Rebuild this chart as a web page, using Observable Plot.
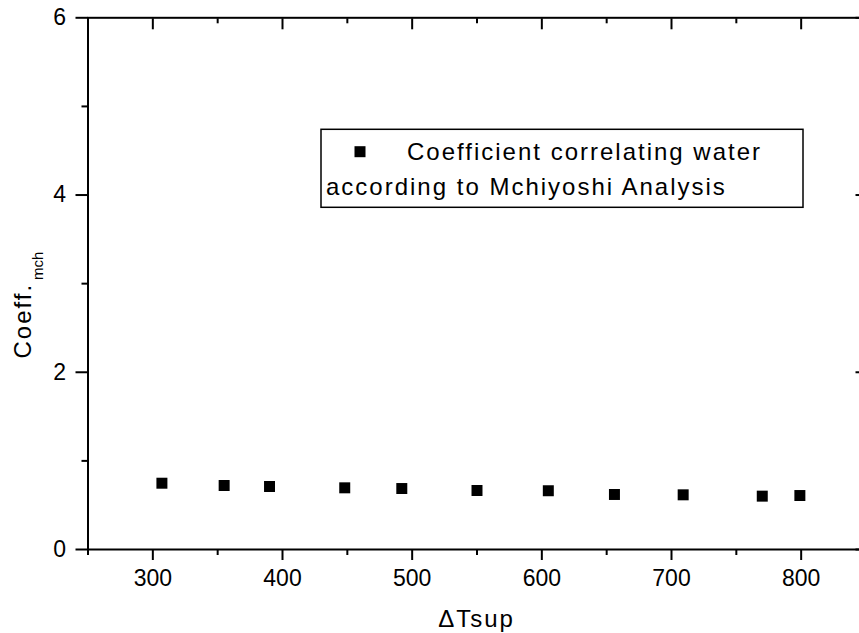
<!DOCTYPE html>
<html>
<head>
<meta charset="utf-8">
<script src="https://cdn.jsdelivr.net/npm/d3@7"></script>
<script src="https://cdn.jsdelivr.net/npm/@observablehq/plot@0.6"></script>
<style>
  html, body { margin: 0; padding: 0; background: white; overflow: hidden; }
</style>
</head>
<body>
<div id="chart"></div>
<script>
// Data
const deltaTsup = [307, 355, 390, 448, 492, 550, 605, 656, 709, 770, 799];
const coeffMch = [0.748, 0.722, 0.711, 0.696, 0.688, 0.666, 0.663, 0.621, 0.617, 0.602, 0.609];
const xTicks = [300, 400, 500, 600, 700, 800];
const xMinorTicks = [250, 350, 450, 550, 650, 750, 850];
const yTicks = [0, 2, 4, 6];
const yMinorTicks = [1, 3, 5];
const xLabel = "ΔTsup";
const yLabel = "Coeff.";
const yLabelSub = "mch";
const legendLine1 = "Coefficient correlating water";
const legendLine2 = "according to Mchiyoshi Analysis";

const data = deltaTsup.map((x, i) => ({x, y: coeffMch[i]}));

const font = "'Liberation Sans', Arial, Helvetica, sans-serif";

const plot = Plot.plot({
  width: 859,
  height: 633,
  marginLeft: 87.5,
  marginRight: -6.5,
  marginTop: 17.3,
  marginBottom: 84,
  x: {domain: [250, 850]},
  y: {domain: [0, 6]},
  style: {fontFamily: font, fontSize: "23px", color: "black", background: "white"},
  marks: [
    Plot.frame({stroke: "black", strokeWidth: 2}),
    Plot.axisX({ticks: xTicks, tickSize: 11, tickPadding: 9, tickFormat: d => String(d), label: null, stroke: "black", strokeWidth: 2, fontSize: 23}),
    Plot.axisX({ticks: xMinorTicks, tickSize: 6, text: null, label: null, stroke: "black", strokeWidth: 2}),
    Plot.axisX({anchor: "top", ticks: xTicks, tickSize: -11, text: null, label: null, stroke: "black", strokeWidth: 2}),
    Plot.axisX({anchor: "top", ticks: xMinorTicks, tickSize: -5, text: null, label: null, stroke: "black", strokeWidth: 2}),
    Plot.axisY({ticks: yTicks, tickSize: 12, tickPadding: 10, tickFormat: d => String(d), label: null, stroke: "black", strokeWidth: 2, fontSize: 23}),
    Plot.axisY({ticks: yMinorTicks, tickSize: 6, text: null, label: null, stroke: "black", strokeWidth: 2}),
    Plot.axisY({anchor: "right", ticks: yTicks, tickSize: -11, text: null, label: null, stroke: "black", strokeWidth: 2}),
    Plot.axisY({anchor: "right", ticks: yMinorTicks, tickSize: -5, text: null, label: null, stroke: "black", strokeWidth: 2}),
    Plot.dot(data, {x: "x", y: "y", symbol: "square", r: 6.2, fill: "black", stroke: "none"})
  ]
});

const svg = d3.select(plot);

// X axis label
svg.append("text")
  .attr("x", 476.5).attr("y", 627)
  .attr("text-anchor", "middle")
  .style("font-family", font).style("font-size", "24px").style("letter-spacing", "2px")
  .attr("fill", "black")
  .text(xLabel);

// Y axis label with subscript
const yl = svg.append("text")
  .attr("transform", "translate(30.7,305) rotate(-90)")
  .attr("text-anchor", "middle")
  .style("font-family", font).style("font-size", "24px").style("letter-spacing", "2px")
  .attr("fill", "black");
yl.append("tspan").text(yLabel);
yl.append("tspan").attr("dx", 3).attr("dy", 12).style("font-size", "15px").style("letter-spacing", "0px").text(yLabelSub);

// Legend box
const lg = svg.append("g").attr("text-anchor", "start");
lg.append("rect")
  .attr("x", 321).attr("y", 129.3).attr("width", 482).attr("height", 78)
  .attr("fill", "white").attr("stroke", "black").attr("stroke-width", 1.5);
lg.append("rect")
  .attr("x", 354.5).attr("y", 146.2).attr("width", 11).attr("height", 11)
  .attr("fill", "black");
lg.append("text")
  .attr("x", 407).attr("y", 160)
  .attr("text-anchor", "start")
  .style("font-family", font).style("font-size", "24px").style("letter-spacing", "2px")
  .attr("fill", "black").text(legendLine1);
lg.append("text")
  .attr("x", 326).attr("y", 195)
  .attr("text-anchor", "start")
  .style("font-family", font).style("font-size", "24px").style("letter-spacing", "2px")
  .attr("fill", "black").text(legendLine2);

document.getElementById("chart").appendChild(plot);
</script>
</body>
</html>
